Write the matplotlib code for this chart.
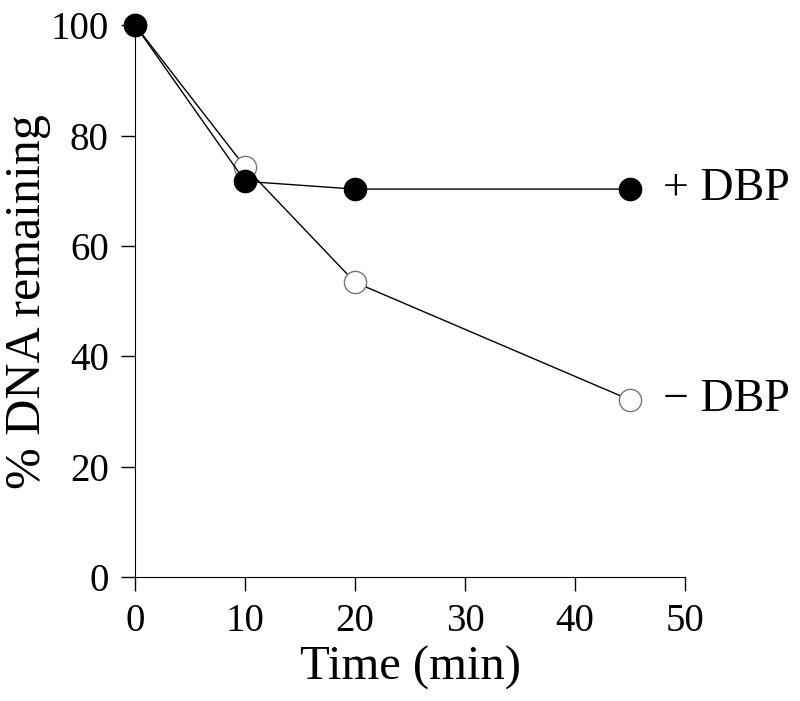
from matplotlib import pyplot as plt

time_min = [0, 10, 20, 45]
plus_dbp = [100, 71.7, 70.3, 70.3]
minus_dbp = [100, 74.3, 53.4, 32.1]
x_ticks = [0, 10, 20, 30, 40, 50]
y_ticks = [0, 20, 40, 60, 80, 100]

plt.rcParams['font.family'] = ['Liberation Serif', 'DejaVu Serif']

fig = plt.figure(figsize=(8, 7.01), dpi=100)
ax = fig.add_axes([0.169, 0.177, 0.687, 0.787])

ax.plot(time_min, minus_dbp, color='black', linewidth=1, marker='o', markersize=16,
        markerfacecolor='white', markeredgecolor='#777777', markeredgewidth=1, clip_on=False, zorder=3)
ax.plot(time_min, plus_dbp, color='black', linewidth=1, marker='o', markersize=16,
        markerfacecolor='black', markeredgecolor='black', clip_on=False, zorder=4)

ax.text(48.0, plus_dbp[-1], '+ DBP', fontsize=33, va='center', ha='left')
ax.text(48.0, minus_dbp[-1], '\u2212 DBP', fontsize=33, va='center', ha='left')

ax.set_xlim(0, 50)
ax.set_ylim(0, 100)
ax.set_xticks(x_ticks)
ax.set_yticks(y_ticks)
ax.tick_params(direction='out', length=10, width=1, labelsize=28, pad=9)
for side in ['top', 'right']:
    ax.spines[side].set_visible(False)
ax.set_xlabel('Time (min)', fontsize=35, labelpad=4)
ax.set_ylabel('% DNA remaining', fontsize=36, labelpad=0)

fig.savefig('out.png', dpi=100)
